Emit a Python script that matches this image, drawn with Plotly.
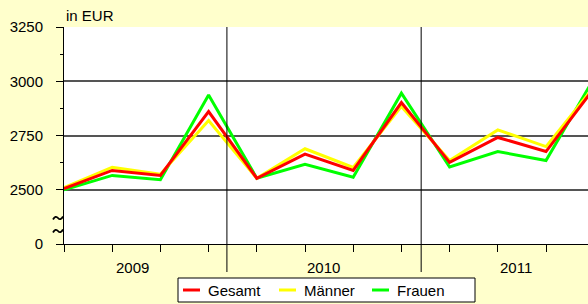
import plotly.graph_objects as go

quarters = ["2009 Q1", "2009 Q2", "2009 Q3", "2009 Q4",
            "2010 Q1", "2010 Q2", "2010 Q3", "2010 Q4",
            "2011 Q1", "2011 Q2", "2011 Q3", "2011 Q4"]
gesamt = [2505, 2589, 2566, 2860, 2553, 2664, 2589, 2902, 2626, 2741, 2676, 2968]
maenner = [2510, 2604, 2572, 2819, 2553, 2689, 2603, 2884, 2635, 2776, 2699, 2975]
frauen = [2500, 2566, 2546, 2937, 2553, 2617, 2558, 2945, 2605, 2676, 2635, 3015]

years = ["2009", "2010", "2011"]
year_label_pos = [1.43, 5.39, 9.38]
year_divider_pos = [3.38, 7.41]

ytick_vals = [2250, 2500, 2750, 3000, 3250]
ytick_text = ["0", "2500", "2750", "3000", "3250"]

series = [("Frauen", frauen, "#00FF00"),
          ("Männer", maenner, "#FFFF00"),
          ("Gesamt", gesamt, "#FF0000")]

FONT = "Liberation Sans, Arial, sans-serif"
xidx = list(range(len(quarters)))

W, H = 588, 304
ml, mt, mb = 64, 27, 60
pw, ph = W - ml, H - mt - mb

def px_x(p):
    return (p - ml) / pw

def px_y(p):
    return (H - mb - p) / ph

fig = go.Figure()
for name, vals, col in series:
    fig.add_trace(go.Scatter(x=xidx, y=vals, mode="lines", name=name,
                             line=dict(color=col, width=3), showlegend=False,
                             hovertext=quarters))

shapes = []
annotations = []
for xp in year_divider_pos:
    shapes.append(dict(type="line", xref="x", yref="paper", x0=xp, x1=xp,
                       y0=px_y(272), y1=1, line=dict(color="#000000", width=1)))
for lbl, xp in zip(years, year_label_pos):
    annotations.append(dict(text=lbl, x=xp, xref="x", y=px_y(267), yref="paper",
                            showarrow=False, font=dict(size=15, color="#000"),
                            xanchor="center", yanchor="middle"))

annotations.append(dict(text="in EUR", x=0, xref="paper", y=px_y(15), yref="paper",
                        showarrow=False, font=dict(size=15, color="#000"),
                        xanchor="left", yanchor="middle"))

# axis break marks (tilde paths)
def P(x, y):
    return f"{px_x(x):.5f},{px_y(y):.5f}"

for yc in [218, 231]:
    path = ("M" + P(53, yc + 1.5) + " Q" + P(55.5, yc - 3) + " " + P(58, yc)
            + " Q" + P(60.5, yc + 3) + " " + P(63, yc - 1.5))
    shapes.append(dict(type="path", xref="paper", yref="paper", path=path,
                       line=dict(color="#000000", width=1.8)))

# legend (manual)
shapes.append(dict(type="rect", xref="paper", yref="paper",
                   x0=px_x(178), x1=px_x(475), y0=px_y(302), y1=px_y(278),
                   fillcolor="#FFFFFF", line=dict(color="#000000", width=1)))
legend_items = [("Gesamt", "#FF0000", 183), ("Männer", "#FFFF00", 279), ("Frauen", "#00FF00", 372)]
for name, col, x0 in legend_items:
    shapes.append(dict(type="line", xref="paper", yref="paper",
                       x0=px_x(x0), x1=px_x(x0 + 17), y0=px_y(290), y1=px_y(290),
                       line=dict(color=col, width=3)))
    annotations.append(dict(text=name, x=px_x(x0 + 23), xref="paper", y=px_y(290.5),
                            yref="paper", showarrow=False, xanchor="left",
                            yanchor="middle", font=dict(size=15, color="#000")))

fig.update_layout(
    width=W, height=H,
    margin=dict(l=ml, r=0, t=mt, b=mb),
    paper_bgcolor="#FFFFCC", plot_bgcolor="#FFFFFF",
    font=dict(family=FONT, size=15, color="#000"),
    shapes=shapes, annotations=annotations,
    xaxis=dict(range=[0, (W - ml) / 48.2], tickmode="array", tickvals=xidx,
               ticktext=[""] * len(xidx), showticklabels=False,
               ticks="outside", ticklen=7, tickcolor="#000", tickwidth=1,
               showgrid=False, zeroline=False, showline=True,
               linecolor="#000", linewidth=1),
    yaxis=dict(range=[2250, 3250], tickmode="array", tickvals=ytick_vals,
               ticktext=ytick_text, ticks="outside", ticklen=7,
               tickcolor="#000", tickwidth=1, ticklabelstandoff=10,
               showgrid=True, gridcolor="#555555", gridwidth=1.5,
               zeroline=False, showline=True, linecolor="#000", linewidth=1,
               minor=dict(tickvals=[2625, 2875, 3125], ticks="outside",
                          ticklen=3, tickcolor="#000", showgrid=False)),
)

fig.write_html("out.html", config={"displayModeBar": False},
               post_script="document.body.style.margin='0';")
